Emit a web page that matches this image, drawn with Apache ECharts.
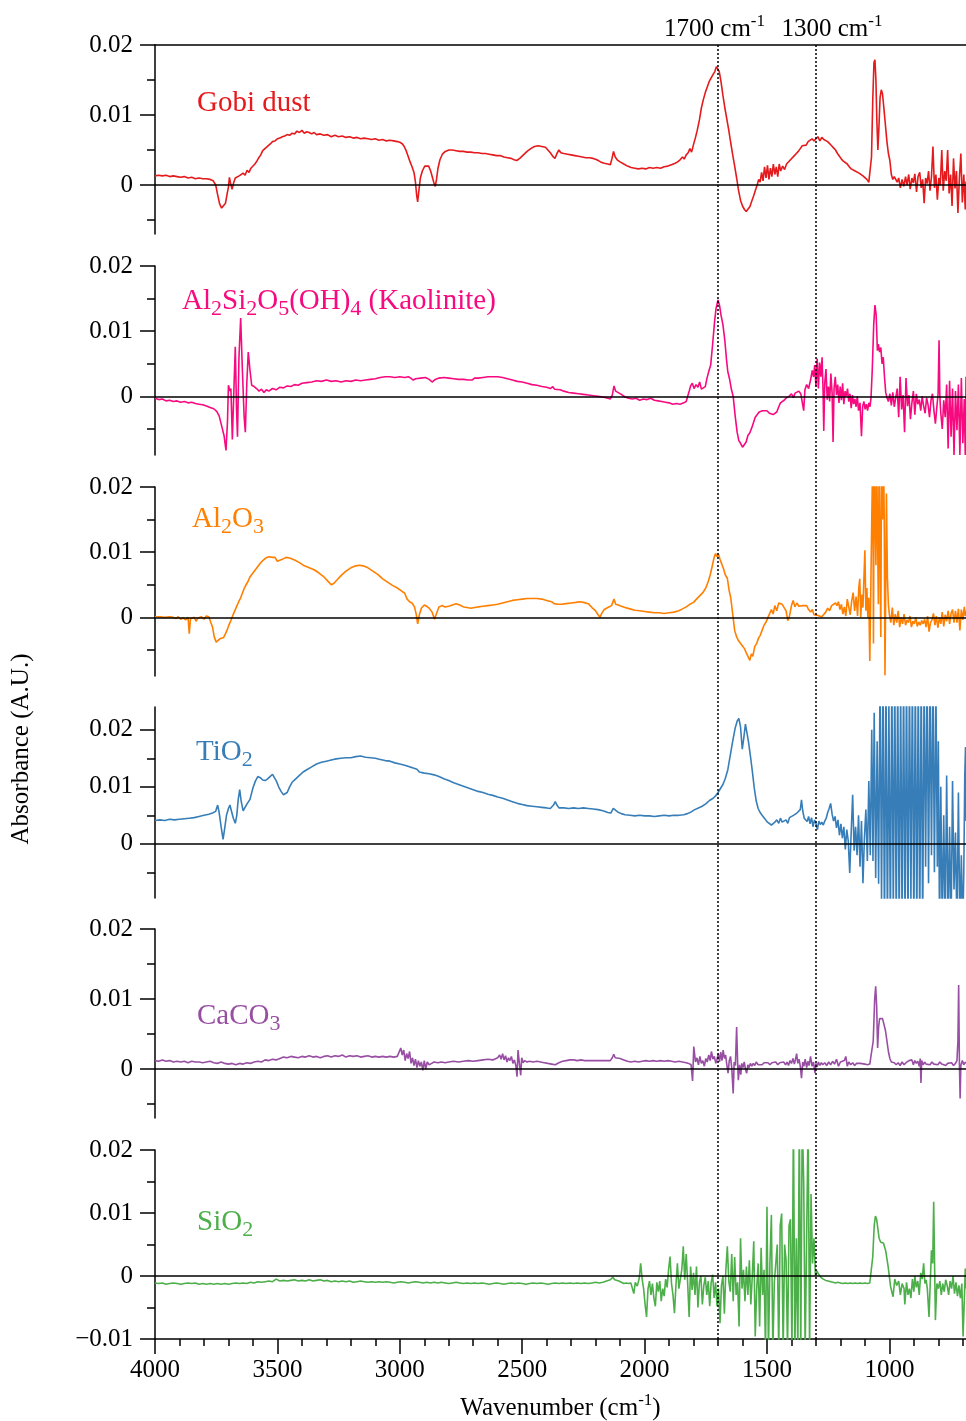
<!DOCTYPE html>
<html><head><meta charset="utf-8">
<script src="https://cdn.jsdelivr.net/npm/echarts@6/dist/echarts.min.js"></script>
<style>html,body{margin:0;padding:0;background:#fff}#c{width:966px;height:1421px}</style>
</head><body><div id="c"></div>
<script>
// ---------- data: [wavenumber (cm-1), absorbance] ----------
const gobiDust = [[4000,0.0013],[3985,0.0014],[3970,0.0013],[3955,0.0014],[3940,0.0012],[3925,0.0013],[3910,0.0012],[3895,0.0011],[3880,0.0012],[3865,0.0010],[3850,0.0011],[3835,0.0009],[3820,0.0010],[3805,0.0009],[3790,0.0009],[3775,0.0008],[3762,0.0006],[3752,0.0000],[3744,-0.0014],[3736,-0.0027],[3728,-0.0033],[3720,-0.0032],[3712,-0.0026],[3705,-0.0012],[3700,-0.0003],[3696,0.0011],[3691,0.0002],[3685,-0.0006],[3679,0.0003],[3672,0.0010],[3664,0.0008],[3656,0.0013],[3648,0.0011],[3640,0.0017],[3632,0.0014],[3624,0.0021],[3616,0.0018],[3608,0.0024],[3600,0.0026],[3592,0.0030],[3584,0.0034],[3576,0.0039],[3568,0.0043],[3560,0.0049],[3552,0.0051],[3544,0.0054],[3536,0.0056],[3528,0.0059],[3520,0.0062],[3510,0.0063],[3500,0.0066],[3490,0.0067],[3480,0.0069],[3470,0.0070],[3460,0.0072],[3450,0.0071],[3440,0.0074],[3430,0.0073],[3420,0.0077],[3410,0.0075],[3400,0.0078],[3390,0.0074],[3380,0.0076],[3370,0.0075],[3360,0.0073],[3350,0.0075],[3340,0.0072],[3325,0.0073],[3310,0.0071],[3295,0.0072],[3280,0.0069],[3265,0.0071],[3250,0.0069],[3235,0.0070],[3220,0.0068],[3205,0.0069],[3190,0.0067],[3175,0.0068],[3160,0.0066],[3145,0.0067],[3130,0.0066],[3115,0.0065],[3100,0.0066],[3085,0.0064],[3070,0.0065],[3055,0.0063],[3040,0.0064],[3025,0.0063],[3010,0.0062],[3000,0.0061],[2990,0.0059],[2982,0.0055],[2974,0.0049],[2966,0.0041],[2958,0.0033],[2950,0.0026],[2942,0.0018],[2936,0.0004],[2931,-0.0015],[2927,-0.0024],[2922,-0.0008],[2916,0.0010],[2908,0.0020],[2898,0.0027],[2890,0.0029],[2882,0.0027],[2874,0.0020],[2866,0.0010],[2860,0.0002],[2855,-0.0002],[2850,0.0008],[2844,0.0024],[2836,0.0036],[2826,0.0044],[2814,0.0048],[2800,0.0050],[2785,0.0050],[2770,0.0049],[2755,0.0048],[2740,0.0048],[2725,0.0047],[2710,0.0047],[2695,0.0046],[2680,0.0046],[2665,0.0045],[2650,0.0045],[2635,0.0044],[2620,0.0043],[2605,0.0042],[2590,0.0042],[2575,0.0040],[2560,0.0039],[2545,0.0038],[2533,0.0036],[2522,0.0035],[2510,0.0038],[2495,0.0043],[2480,0.0048],[2465,0.0052],[2450,0.0055],[2435,0.0056],[2420,0.0055],[2405,0.0054],[2395,0.0050],[2385,0.0046],[2375,0.0041],[2366,0.0038],[2358,0.0045],[2350,0.0050],[2342,0.0046],[2330,0.0045],[2315,0.0044],[2300,0.0043],[2285,0.0042],[2270,0.0041],[2255,0.0040],[2240,0.0039],[2225,0.0039],[2210,0.0038],[2195,0.0036],[2180,0.0033],[2165,0.0031],[2150,0.0030],[2140,0.0029],[2133,0.0038],[2127,0.0048],[2120,0.0040],[2112,0.0036],[2100,0.0033],[2085,0.0030],[2070,0.0027],[2055,0.0025],[2040,0.0024],[2025,0.0023],[2010,0.0024],[1995,0.0023],[1980,0.0025],[1965,0.0024],[1950,0.0025],[1935,0.0024],[1920,0.0026],[1905,0.0027],[1890,0.0029],[1875,0.0031],[1865,0.0033],[1855,0.0036],[1845,0.0040],[1838,0.0037],[1830,0.0043],[1822,0.0046],[1815,0.0052],[1808,0.0047],[1800,0.0058],[1792,0.0068],[1785,0.0078],[1776,0.0093],[1768,0.0110],[1760,0.0122],[1752,0.0132],[1744,0.0140],[1736,0.0148],[1728,0.0153],[1720,0.0158],[1713,0.0162],[1707,0.0169],[1701,0.0166],[1695,0.0162],[1688,0.0148],[1680,0.0128],[1672,0.0110],[1664,0.0094],[1656,0.0078],[1648,0.0060],[1640,0.0043],[1632,0.0027],[1624,0.0010],[1616,-0.0008],[1608,-0.0022],[1600,-0.0030],[1592,-0.0035],[1585,-0.0038],[1578,-0.0036],[1570,-0.0031],[1562,-0.0023],[1554,-0.0015],[1546,-0.0006],[1540,0.0000],[1534,0.0008],[1528,0.0004],[1522,0.0018],[1516,0.0006],[1510,0.0026],[1504,0.0010],[1498,0.0028],[1492,0.0008],[1486,0.0024],[1480,0.0012],[1474,0.0030],[1468,0.0015],[1462,0.0026],[1456,0.0012],[1450,0.0030],[1444,0.0020],[1436,0.0027],[1428,0.0022],[1420,0.0030],[1412,0.0032],[1404,0.0036],[1396,0.0038],[1388,0.0042],[1380,0.0045],[1372,0.0048],[1364,0.0052],[1356,0.0056],[1348,0.0058],[1340,0.0057],[1332,0.0062],[1324,0.0060],[1316,0.0066],[1308,0.0063],[1300,0.0066],[1292,0.0069],[1284,0.0063],[1276,0.0068],[1268,0.0065],[1260,0.0066],[1252,0.0062],[1244,0.0060],[1236,0.0056],[1228,0.0053],[1220,0.0050],[1212,0.0045],[1204,0.0041],[1196,0.0037],[1188,0.0034],[1180,0.0032],[1172,0.0030],[1164,0.0026],[1156,0.0023],[1148,0.0024],[1140,0.0020],[1132,0.0022],[1124,0.0017],[1116,0.0018],[1108,0.0013],[1100,0.0012],[1092,0.0008],[1084,0.0004],[1078,0.0002],[1073,0.0040],[1068,0.0120],[1063,0.0175],[1059,0.0179],[1055,0.0150],[1051,0.0090],[1047,0.0050],[1043,0.0080],[1038,0.0125],[1033,0.0136],[1028,0.0130],[1022,0.0108],[1016,0.0085],[1010,0.0062],[1004,0.0045],[998,0.0035],[992,0.0015],[986,0.0008],[980,0.0012],[975,0.0012],[968,0.0004],[962,0.0010],[955,-0.0004],[948,0.0008],[941,-0.0002],[934,0.0012],[928,0.0000],[921,0.0015],[915,-0.0006],[908,0.0010],[902,0.0003],[896,0.0016],[889,-0.0010],[883,0.0012],[876,0.0018],[870,-0.0004],[864,0.0008],[858,-0.0026],[852,0.0010],[846,0.0002],[840,0.0020],[834,-0.0008],[828,0.0012],[822,0.0055],[816,-0.0004],[810,0.0015],[804,-0.0021],[798,0.0010],[792,0.0000],[786,0.0050],[780,-0.0008],[774,0.0020],[768,0.0006],[762,0.0050],[756,-0.0012],[750,0.0015],[744,-0.0030],[738,0.0038],[732,-0.0005],[726,0.0020],[720,-0.0040],[714,0.0010],[708,0.0045],[702,-0.0025],[696,0.0015],[690,-0.0035],[687,0.0005]];

const kaolinite = [[4000,-0.0003],[3985,-0.0005],[3970,-0.0004],[3955,-0.0007],[3940,-0.0006],[3925,-0.0008],[3910,-0.0007],[3895,-0.0009],[3880,-0.0008],[3865,-0.0010],[3850,-0.0009],[3835,-0.0011],[3820,-0.0012],[3805,-0.0013],[3790,-0.0015],[3775,-0.0017],[3760,-0.0019],[3748,-0.0023],[3738,-0.0030],[3728,-0.0045],[3718,-0.0060],[3710,-0.0083],[3704,-0.0040],[3700,0.0017],[3694,0.0008],[3690,0.0012],[3684,-0.0066],[3676,0.0030],[3672,0.0076],[3667,-0.0020],[3663,-0.0062],[3657,0.0060],[3650,0.0120],[3643,0.0040],[3636,-0.0030],[3631,-0.0055],[3625,0.0020],[3619,0.0068],[3612,0.0040],[3605,0.0017],[3595,0.0015],[3585,0.0012],[3575,0.0008],[3565,0.0011],[3555,0.0006],[3545,0.0010],[3535,0.0008],[3520,0.0012],[3505,0.0010],[3490,0.0014],[3475,0.0013],[3460,0.0016],[3445,0.0015],[3430,0.0018],[3415,0.0017],[3400,0.0020],[3380,0.0021],[3360,0.0022],[3340,0.0024],[3320,0.0023],[3300,0.0025],[3280,0.0023],[3260,0.0024],[3240,0.0022],[3220,0.0024],[3200,0.0023],[3180,0.0025],[3160,0.0024],[3140,0.0025],[3120,0.0026],[3100,0.0027],[3080,0.0029],[3060,0.0030],[3040,0.0030],[3020,0.0029],[3000,0.0030],[2980,0.0029],[2965,0.0030],[2955,0.0028],[2945,0.0025],[2935,0.0027],[2915,0.0028],[2895,0.0029],[2880,0.0026],[2868,0.0022],[2855,0.0026],[2840,0.0028],[2820,0.0029],[2800,0.0028],[2780,0.0027],[2760,0.0026],[2740,0.0026],[2720,0.0025],[2705,0.0025],[2695,0.0028],[2680,0.0028],[2660,0.0029],[2640,0.0030],[2620,0.0030],[2600,0.0030],[2580,0.0029],[2560,0.0027],[2540,0.0025],[2520,0.0023],[2500,0.0022],[2480,0.0020],[2460,0.0018],[2440,0.0017],[2420,0.0015],[2400,0.0014],[2385,0.0012],[2375,0.0015],[2368,0.0011],[2360,0.0013],[2345,0.0010],[2330,0.0008],[2310,0.0006],[2290,0.0005],[2270,0.0004],[2250,0.0003],[2230,0.0002],[2210,0.0001],[2190,0.0000],[2170,-0.0001],[2150,-0.0003],[2140,-0.0004],[2132,0.0002],[2125,0.0016],[2118,0.0008],[2110,0.0005],[2095,0.0003],[2080,-0.0001],[2065,-0.0003],[2050,-0.0004],[2035,-0.0003],[2020,-0.0006],[2005,-0.0004],[1990,-0.0005],[1975,-0.0003],[1960,-0.0006],[1945,-0.0007],[1930,-0.0008],[1915,-0.0009],[1900,-0.0010],[1885,-0.0012],[1870,-0.0011],[1855,-0.0012],[1840,-0.0010],[1830,-0.0008],[1820,0.0005],[1812,0.0016],[1805,0.0020],[1798,0.0012],[1790,0.0018],[1782,0.0014],[1775,0.0022],[1768,0.0011],[1760,0.0010],[1752,0.0015],[1745,0.0028],[1738,0.0038],[1730,0.0048],[1722,0.0080],[1714,0.0115],[1708,0.0135],[1700,0.0148],[1694,0.0140],[1688,0.0125],[1680,0.0110],[1672,0.0085],[1665,0.0055],[1660,0.0038],[1652,0.0025],[1645,0.0010],[1638,0.0000],[1630,-0.0030],[1622,-0.0055],[1615,-0.0068],[1608,-0.0072],[1600,-0.0078],[1593,-0.0076],[1585,-0.0070],[1578,-0.0060],[1570,-0.0056],[1562,-0.0048],[1555,-0.0040],[1548,-0.0032],[1540,-0.0030],[1532,-0.0024],[1525,-0.0026],[1518,-0.0022],[1510,-0.0024],[1500,-0.0022],[1490,-0.0026],[1482,-0.0023],[1475,-0.0028],[1468,-0.0026],[1460,-0.0024],[1452,-0.0016],[1445,-0.0010],[1438,-0.0008],[1430,-0.0006],[1420,-0.0002],[1410,0.0000],[1400,0.0004],[1392,-0.0002],[1385,0.0005],[1378,0.0002],[1370,0.0008],[1362,0.0004],[1355,0.0006],[1350,-0.0022],[1345,0.0010],[1338,0.0018],[1330,0.0012],[1322,0.0025],[1315,0.0040],[1310,0.0030],[1305,0.0048],[1300,0.0015],[1295,0.0058],[1290,0.0012],[1285,0.0052],[1280,0.0030],[1275,0.0060],[1271,0.0010],[1268,-0.0053],[1264,0.0020],[1259,0.0042],[1254,-0.0005],[1249,0.0015],[1244,-0.0008],[1239,0.0035],[1234,0.0005],[1230,-0.0070],[1226,0.0012],[1221,0.0030],[1216,0.0002],[1211,0.0018],[1206,-0.0010],[1201,0.0015],[1196,-0.0006],[1191,0.0020],[1186,-0.0012],[1181,0.0008],[1176,0.0000],[1171,0.0012],[1166,-0.0008],[1161,0.0004],[1156,-0.0018],[1151,0.0002],[1146,-0.0012],[1141,-0.0004],[1136,-0.0016],[1131,0.0000],[1126,-0.0022],[1120,-0.0010],[1114,-0.0061],[1109,-0.0015],[1104,-0.0008],[1099,-0.0020],[1094,-0.0012],[1089,-0.0022],[1084,-0.0010],[1079,-0.0016],[1075,-0.0002],[1070,0.0040],[1064,0.0110],[1059,0.0140],[1054,0.0125],[1049,0.0070],[1045,0.0080],[1040,0.0068],[1035,0.0075],[1030,0.0050],[1025,0.0060],[1020,0.0030],[1015,0.0006],[1010,-0.0002],[1004,-0.0008],[998,0.0004],[992,-0.0014],[986,0.0006],[980,-0.0016],[974,-0.0002],[968,0.0012],[962,-0.0032],[956,0.0030],[950,-0.0020],[944,0.0002],[938,-0.0055],[932,0.0028],[926,-0.0015],[920,0.0002],[914,-0.0035],[908,-0.0010],[902,0.0008],[896,-0.0028],[890,0.0004],[884,-0.0012],[878,-0.0005],[872,-0.0022],[866,0.0000],[860,-0.0015],[854,-0.0026],[848,-0.0002],[842,-0.0013],[836,-0.0032],[830,-0.0006],[824,0.0004],[818,-0.0022],[812,-0.0042],[806,-0.0016],[801,0.0004],[797,0.0086],[794,0.0002],[790,-0.0026],[784,-0.0050],[778,-0.0006],[772,-0.0032],[766,0.0018],[760,-0.0080],[754,0.0024],[748,-0.0062],[742,0.0012],[736,-0.0090],[730,0.0008],[724,-0.0052],[718,0.0018],[712,-0.0090],[706,0.0028],[700,-0.0072],[694,-0.0004],[690,-0.0090],[687,0.0030]];

const alumina = [[4000,0.0001],[3980,0.0001],[3960,0.0000],[3940,0.0001],[3925,0.0000],[3915,-0.0002],[3905,0.0001],[3895,-0.0003],[3885,-0.0001],[3875,-0.0004],[3865,0.0000],[3860,-0.0025],[3855,-0.0002],[3848,-0.0005],[3840,0.0000],[3832,-0.0006],[3825,-0.0001],[3818,-0.0004],[3810,0.0001],[3800,-0.0003],[3790,0.0002],[3780,0.0001],[3772,-0.0008],[3765,-0.0015],[3758,-0.0030],[3750,-0.0038],[3742,-0.0035],[3735,-0.0033],[3728,-0.0030],[3720,-0.0031],[3712,-0.0025],[3704,-0.0018],[3696,-0.0010],[3688,-0.0003],[3680,0.0005],[3672,0.0008],[3665,0.0018],[3658,0.0024],[3650,0.0030],[3642,0.0038],[3635,0.0045],[3628,0.0050],[3620,0.0055],[3612,0.0062],[3600,0.0068],[3590,0.0073],[3580,0.0078],[3570,0.0083],[3560,0.0087],[3548,0.0091],[3535,0.0093],[3520,0.0092],[3510,0.0092],[3500,0.0086],[3492,0.0085],[3480,0.0089],[3465,0.0092],[3450,0.0091],[3430,0.0088],[3410,0.0084],[3390,0.0079],[3370,0.0076],[3350,0.0073],[3330,0.0068],[3310,0.0062],[3295,0.0056],[3280,0.0050],[3270,0.0052],[3255,0.0058],[3240,0.0064],[3220,0.0071],[3200,0.0076],[3180,0.0079],[3165,0.0080],[3150,0.0079],[3130,0.0076],[3110,0.0071],[3090,0.0066],[3070,0.0059],[3050,0.0054],[3030,0.0049],[3010,0.0045],[2995,0.0041],[2980,0.0037],[2970,0.0028],[2960,0.0024],[2950,0.0022],[2940,0.0016],[2933,0.0005],[2927,-0.0010],[2920,0.0004],[2912,0.0014],[2900,0.0019],[2890,0.0017],[2880,0.0014],[2868,0.0008],[2858,-0.0003],[2850,0.0006],[2840,0.0016],[2828,0.0018],[2815,0.0016],[2800,0.0017],[2785,0.0019],[2770,0.0021],[2755,0.0019],[2740,0.0016],[2725,0.0015],[2710,0.0014],[2695,0.0015],[2680,0.0016],[2660,0.0017],[2640,0.0018],[2620,0.0019],[2600,0.0020],[2580,0.0022],[2560,0.0024],[2540,0.0026],[2520,0.0027],[2500,0.0028],[2480,0.0029],[2460,0.0029],[2440,0.0029],[2420,0.0028],[2400,0.0026],[2380,0.0024],[2370,0.0021],[2355,0.0020],[2340,0.0020],[2320,0.0021],[2300,0.0022],[2280,0.0023],[2265,0.0024],[2250,0.0023],[2230,0.0021],[2215,0.0015],[2200,0.0010],[2190,0.0004],[2182,0.0000],[2175,0.0006],[2165,0.0012],[2150,0.0015],[2135,0.0018],[2125,0.0028],[2118,0.0020],[2108,0.0019],[2095,0.0017],[2080,0.0015],[2060,0.0013],[2040,0.0011],[2020,0.0010],[2000,0.0009],[1980,0.0008],[1960,0.0007],[1940,0.0007],[1920,0.0006],[1900,0.0007],[1880,0.0008],[1860,0.0010],[1845,0.0013],[1830,0.0016],[1815,0.0020],[1800,0.0023],[1788,0.0028],[1775,0.0033],[1762,0.0038],[1750,0.0045],[1740,0.0055],[1732,0.0065],[1724,0.0078],[1716,0.0092],[1710,0.0098],[1704,0.0093],[1698,0.0097],[1692,0.0089],[1685,0.0082],[1678,0.0075],[1670,0.0065],[1662,0.0060],[1655,0.0042],[1648,0.0030],[1640,0.0005],[1632,-0.0020],[1624,-0.0030],[1616,-0.0036],[1608,-0.0039],[1600,-0.0044],[1592,-0.0048],[1584,-0.0055],[1576,-0.0052],[1570,-0.0066],[1564,-0.0056],[1558,-0.0060],[1550,-0.0045],[1542,-0.0040],[1535,-0.0032],[1528,-0.0028],[1520,-0.0020],[1512,-0.0012],[1505,-0.0008],[1498,-0.0002],[1490,0.0005],[1482,0.0012],[1475,0.0005],[1468,0.0018],[1460,0.0010],[1452,0.0022],[1445,0.0024],[1438,0.0020],[1430,0.0015],[1422,0.0010],[1415,-0.0005],[1408,0.0002],[1400,0.0018],[1393,0.0026],[1386,0.0016],[1378,0.0022],[1370,0.0017],[1362,0.0020],[1354,0.0018],[1346,0.0016],[1338,0.0018],[1330,0.0012],[1322,0.0008],[1315,0.0012],[1308,0.0004],[1300,0.0006],[1292,0.0003],[1284,0.0002],[1276,0.0001],[1268,0.0003],[1260,0.0008],[1252,0.0014],[1244,0.0010],[1236,0.0018],[1228,0.0015],[1220,0.0022],[1214,0.0018],[1208,0.0024],[1202,0.0012],[1196,0.0020],[1190,0.0005],[1184,0.0016],[1178,0.0002],[1172,0.0028],[1166,0.0030],[1160,0.0004],[1154,0.0025],[1148,0.0038],[1142,0.0010],[1136,0.0032],[1130,0.0002],[1125,0.0045],[1121,0.0059],[1117,0.0000],[1112,0.0035],[1108,0.0015],[1104,0.0060],[1100,0.0103],[1096,0.0010],[1092,0.0045],[1088,0.0000],[1084,0.0030],[1080,-0.0067],[1076,0.0040],[1072,0.0150],[1068,0.0250],[1065,-0.0040],[1062,0.0250],[1058,0.0250],[1055,0.0080],[1052,0.0250],[1048,0.0250],[1045,0.0020],[1042,0.0250],[1038,0.0250],[1035,-0.0030],[1032,0.0250],[1028,0.0150],[1024,0.0250],[1021,0.0150],[1018,-0.0089],[1015,0.0040],[1012,0.0190],[1008,0.0060],[1004,0.0020],[1000,0.0004],[994,-0.0008],[988,0.0015],[982,-0.0012],[976,0.0005],[970,-0.0008],[964,0.0010],[958,-0.0015],[952,0.0000],[946,-0.0010],[940,0.0005],[934,-0.0012],[928,-0.0004],[922,-0.0008],[916,0.0002],[910,-0.0015],[904,-0.0006],[898,-0.0010],[892,0.0000],[886,-0.0014],[880,-0.0007],[874,-0.0012],[868,-0.0005],[862,-0.0010],[856,-0.0003],[850,-0.0015],[844,0.0002],[838,-0.0022],[832,-0.0008],[826,-0.0004],[820,0.0006],[814,-0.0012],[808,0.0002],[802,-0.0016],[796,0.0000],[790,-0.0010],[784,0.0008],[778,-0.0014],[772,0.0004],[766,-0.0006],[760,0.0010],[754,-0.0010],[748,0.0006],[742,0.0012],[736,-0.0008],[730,0.0010],[724,-0.0008],[718,0.0013],[712,-0.0020],[706,0.0012],[700,-0.0004],[694,0.0016],[690,0.0002],[687,0.0010]];

const titania = [[4000,0.0041],[3980,0.0042],[3960,0.0041],[3940,0.0043],[3920,0.0042],[3900,0.0043],[3880,0.0044],[3860,0.0045],[3840,0.0046],[3820,0.0048],[3800,0.0050],[3780,0.0052],[3765,0.0054],[3752,0.0057],[3744,0.0068],[3738,0.0055],[3730,0.0030],[3722,0.0008],[3716,0.0025],[3708,0.0050],[3700,0.0062],[3694,0.0068],[3688,0.0058],[3680,0.0045],[3672,0.0036],[3666,0.0050],[3660,0.0078],[3654,0.0095],[3648,0.0075],[3640,0.0058],[3632,0.0060],[3624,0.0070],[3612,0.0078],[3600,0.0098],[3590,0.0110],[3580,0.0118],[3570,0.0116],[3560,0.0112],[3550,0.0111],[3540,0.0114],[3530,0.0118],[3520,0.0122],[3512,0.0120],[3504,0.0110],[3495,0.0100],[3485,0.0092],[3475,0.0086],[3468,0.0084],[3460,0.0090],[3450,0.0100],[3440,0.0108],[3425,0.0114],[3410,0.0120],[3395,0.0126],[3380,0.0130],[3360,0.0135],[3340,0.0140],[3320,0.0143],[3300,0.0145],[3280,0.0147],[3260,0.0149],[3240,0.0150],[3220,0.0151],[3200,0.0151],[3180,0.0153],[3160,0.0154],[3140,0.0152],[3120,0.0151],[3100,0.0150],[3080,0.0148],[3060,0.0146],[3040,0.0145],[3020,0.0142],[3000,0.0140],[2980,0.0138],[2960,0.0135],[2945,0.0133],[2930,0.0131],[2920,0.0126],[2900,0.0124],[2880,0.0123],[2860,0.0121],[2840,0.0118],[2820,0.0114],[2800,0.0111],[2780,0.0107],[2760,0.0104],[2740,0.0101],[2720,0.0098],[2700,0.0095],[2680,0.0092],[2660,0.0090],[2640,0.0087],[2620,0.0085],[2600,0.0082],[2580,0.0080],[2560,0.0077],[2540,0.0074],[2520,0.0071],[2500,0.0069],[2480,0.0067],[2460,0.0066],[2440,0.0065],[2420,0.0064],[2400,0.0063],[2385,0.0062],[2372,0.0068],[2365,0.0074],[2358,0.0068],[2350,0.0063],[2330,0.0063],[2310,0.0062],[2290,0.0063],[2270,0.0062],[2250,0.0063],[2230,0.0062],[2210,0.0061],[2190,0.0060],[2170,0.0058],[2150,0.0055],[2138,0.0054],[2128,0.0062],[2120,0.0060],[2110,0.0056],[2095,0.0053],[2080,0.0051],[2060,0.0050],[2040,0.0049],[2020,0.0050],[2000,0.0049],[1980,0.0049],[1960,0.0048],[1940,0.0049],[1920,0.0050],[1900,0.0049],[1880,0.0050],[1860,0.0050],[1840,0.0051],[1825,0.0053],[1810,0.0056],[1795,0.0060],[1780,0.0063],[1765,0.0066],[1750,0.0070],[1735,0.0076],[1720,0.0080],[1710,0.0084],[1700,0.0090],[1690,0.0097],[1680,0.0104],[1670,0.0115],[1660,0.0130],[1650,0.0155],[1640,0.0180],[1630,0.0203],[1622,0.0215],[1615,0.0220],[1608,0.0205],[1601,0.0166],[1595,0.0185],[1588,0.0210],[1582,0.0212],[1576,0.0180],[1568,0.0155],[1560,0.0128],[1552,0.0098],[1544,0.0075],[1536,0.0062],[1528,0.0055],[1520,0.0050],[1512,0.0048],[1505,0.0042],[1498,0.0038],[1490,0.0040],[1482,0.0033],[1475,0.0030],[1468,0.0038],[1460,0.0042],[1452,0.0036],[1445,0.0045],[1438,0.0038],[1430,0.0035],[1422,0.0042],[1415,0.0036],[1408,0.0046],[1400,0.0044],[1392,0.0050],[1385,0.0048],[1378,0.0054],[1370,0.0052],[1364,0.0060],[1359,0.0077],[1354,0.0058],[1348,0.0045],[1342,0.0042],[1336,0.0039],[1330,0.0048],[1324,0.0035],[1318,0.0046],[1312,0.0030],[1306,0.0042],[1300,0.0036],[1294,0.0025],[1288,0.0040],[1282,0.0034],[1276,0.0038],[1270,0.0033],[1264,0.0040],[1258,0.0045],[1252,0.0055],[1246,0.0062],[1240,0.0071],[1234,0.0052],[1228,0.0040],[1222,0.0048],[1216,0.0028],[1210,0.0042],[1204,0.0015],[1198,0.0035],[1192,0.0010],[1186,0.0030],[1180,-0.0010],[1174,0.0025],[1168,0.0005],[1162,-0.0051],[1156,0.0020],[1150,0.0086],[1144,-0.0012],[1138,0.0030],[1132,-0.0020],[1126,0.0050],[1120,-0.0040],[1114,0.0040],[1108,-0.0069],[1102,0.0010],[1096,0.0060],[1090,-0.0030],[1084,0.0110],[1078,-0.0020],[1072,0.0200],[1067,-0.0030],[1062,0.0230],[1056,-0.0060],[1050,0.0180],[1044,-0.0070],[1038,0.0300],[1032,-0.0100],[1026,0.0300],[1020,-0.0150],[1014,0.0300],[1008,-0.0150],[1002,0.0250],[996,-0.0150],[990,0.0300],[984,-0.0120],[978,0.0300],[972,-0.0150],[966,0.0300],[960,-0.0150],[954,0.0280],[948,-0.0150],[942,0.0300],[936,-0.0150],[930,0.0300],[924,-0.0150],[918,0.0300],[912,-0.0100],[906,0.0300],[900,-0.0150],[894,0.0300],[888,-0.0150],[882,0.0300],[876,-0.0150],[870,0.0300],[864,-0.0150],[858,0.0300],[852,-0.0040],[846,0.0300],[840,-0.0069],[834,0.0300],[828,-0.0020],[822,0.0300],[816,-0.0050],[810,0.0280],[804,-0.0040],[800,0.0180],[795,-0.0150],[790,0.0100],[784,-0.0150],[778,0.0050],[772,-0.0150],[766,0.0120],[760,-0.0150],[754,0.0030],[748,-0.0150],[742,0.0110],[736,-0.0080],[730,0.0020],[724,-0.0150],[718,0.0090],[712,-0.0150],[706,-0.0020],[700,-0.0150],[696,-0.0050],[692,0.0120],[689,0.0170],[687,0.0040]];

const calcite = [[4000,0.0012],[3985,0.0011],[3970,0.0013],[3955,0.0011],[3940,0.0012],[3925,0.0010],[3910,0.0011],[3895,0.0010],[3880,0.0011],[3865,0.0009],[3850,0.0011],[3835,0.0010],[3820,0.0010],[3805,0.0009],[3790,0.0010],[3775,0.0011],[3760,0.0009],[3745,0.0008],[3730,0.0010],[3715,0.0008],[3700,0.0007],[3685,0.0008],[3670,0.0006],[3655,0.0008],[3640,0.0007],[3625,0.0009],[3610,0.0008],[3595,0.0010],[3580,0.0011],[3565,0.0010],[3550,0.0013],[3535,0.0012],[3520,0.0014],[3505,0.0013],[3490,0.0015],[3475,0.0017],[3460,0.0016],[3445,0.0018],[3430,0.0017],[3415,0.0016],[3400,0.0018],[3385,0.0017],[3370,0.0019],[3355,0.0017],[3340,0.0018],[3325,0.0016],[3310,0.0018],[3295,0.0019],[3280,0.0017],[3265,0.0019],[3250,0.0018],[3235,0.0020],[3220,0.0017],[3205,0.0019],[3190,0.0018],[3175,0.0019],[3160,0.0017],[3145,0.0018],[3130,0.0019],[3115,0.0017],[3100,0.0018],[3085,0.0017],[3070,0.0018],[3055,0.0017],[3040,0.0018],[3025,0.0017],[3010,0.0018],[3002,0.0016],[2996,0.0030],[2990,0.0020],[2984,0.0027],[2978,0.0012],[2972,0.0022],[2966,0.0015],[2960,0.0025],[2954,0.0008],[2948,0.0016],[2942,0.0005],[2936,0.0014],[2930,0.0002],[2924,0.0012],[2918,0.0004],[2912,0.0010],[2906,-0.0002],[2900,0.0012],[2894,0.0000],[2888,0.0010],[2880,0.0006],[2870,0.0008],[2860,0.0010],[2845,0.0009],[2830,0.0010],[2815,0.0009],[2800,0.0010],[2780,0.0011],[2760,0.0010],[2740,0.0011],[2720,0.0012],[2700,0.0011],[2680,0.0012],[2660,0.0013],[2640,0.0014],[2620,0.0013],[2600,0.0016],[2592,0.0020],[2586,0.0014],[2580,0.0022],[2574,0.0013],[2568,0.0019],[2562,0.0010],[2556,0.0016],[2550,0.0012],[2544,0.0018],[2538,0.0008],[2532,0.0013],[2526,0.0005],[2521,-0.0011],[2517,0.0027],[2512,0.0010],[2506,-0.0009],[2502,0.0016],[2496,0.0009],[2490,0.0012],[2480,0.0010],[2470,0.0011],[2455,0.0010],[2440,0.0011],[2425,0.0010],[2410,0.0009],[2395,0.0008],[2380,0.0007],[2365,0.0006],[2350,0.0009],[2335,0.0011],[2320,0.0012],[2305,0.0013],[2290,0.0013],[2275,0.0012],[2260,0.0013],[2245,0.0012],[2230,0.0012],[2215,0.0012],[2200,0.0012],[2185,0.0012],[2170,0.0012],[2155,0.0012],[2140,0.0012],[2132,0.0016],[2126,0.0021],[2120,0.0016],[2112,0.0017],[2100,0.0015],[2085,0.0013],[2070,0.0011],[2055,0.0010],[2040,0.0011],[2025,0.0010],[2010,0.0011],[1995,0.0012],[1980,0.0011],[1965,0.0012],[1950,0.0011],[1935,0.0012],[1920,0.0011],[1905,0.0012],[1890,0.0011],[1875,0.0010],[1860,0.0011],[1845,0.0010],[1830,0.0009],[1820,0.0008],[1810,0.0006],[1804,-0.0017],[1799,0.0032],[1792,0.0010],[1786,0.0016],[1780,0.0006],[1774,0.0018],[1768,0.0008],[1762,0.0012],[1756,0.0004],[1750,0.0015],[1744,0.0010],[1738,0.0020],[1732,0.0012],[1727,0.0025],[1721,0.0014],[1715,0.0018],[1709,0.0008],[1704,0.0014],[1699,0.0022],[1694,0.0010],[1689,0.0024],[1684,0.0012],[1679,0.0027],[1674,0.0015],[1669,0.0020],[1664,0.0006],[1659,-0.0006],[1654,0.0012],[1649,0.0018],[1644,0.0002],[1638,-0.0035],[1634,0.0010],[1629,0.0005],[1624,0.0060],[1620,0.0010],[1617,-0.0016],[1612,0.0006],[1607,-0.0008],[1603,0.0008],[1598,0.0002],[1593,0.0010],[1588,0.0000],[1583,-0.0006],[1578,0.0006],[1573,0.0002],[1568,0.0008],[1562,0.0004],[1556,0.0008],[1550,0.0005],[1544,0.0010],[1536,0.0006],[1528,0.0008],[1520,0.0006],[1512,0.0009],[1504,0.0007],[1496,0.0009],[1488,0.0006],[1480,0.0009],[1472,0.0007],[1464,0.0010],[1456,0.0006],[1448,0.0009],[1440,0.0007],[1432,0.0010],[1424,0.0006],[1418,0.0010],[1412,0.0005],[1406,0.0012],[1400,0.0008],[1394,0.0015],[1388,0.0007],[1382,0.0016],[1379,0.0022],[1374,0.0008],[1369,0.0014],[1364,0.0004],[1359,-0.0013],[1354,0.0010],[1349,0.0004],[1344,0.0014],[1338,0.0002],[1333,0.0011],[1328,0.0005],[1322,0.0018],[1316,0.0004],[1310,0.0010],[1304,-0.0006],[1300,0.0008],[1295,0.0003],[1290,0.0010],[1284,0.0005],[1278,0.0009],[1272,0.0006],[1264,0.0009],[1256,0.0005],[1248,0.0010],[1240,0.0006],[1232,0.0011],[1224,0.0007],[1216,0.0014],[1208,0.0004],[1200,0.0010],[1192,0.0008],[1184,0.0012],[1178,0.0018],[1172,0.0004],[1166,0.0010],[1158,0.0006],[1150,0.0009],[1142,0.0005],[1134,0.0008],[1126,0.0006],[1118,0.0008],[1110,0.0006],[1100,0.0007],[1090,0.0006],[1080,0.0007],[1072,0.0009],[1066,0.0040],[1060,0.0100],[1056,0.0118],[1052,0.0090],[1048,0.0030],[1044,0.0060],[1040,0.0072],[1034,0.0074],[1028,0.0072],[1022,0.0070],[1016,0.0055],[1010,0.0040],[1004,0.0025],[998,0.0015],[992,0.0010],[986,0.0008],[980,0.0009],[972,0.0006],[964,0.0009],[956,0.0005],[948,0.0010],[940,0.0006],[932,0.0009],[926,0.0007],[920,0.0012],[914,0.0010],[908,0.0013],[902,0.0006],[896,0.0012],[890,0.0008],[884,0.0011],[878,0.0004],[874,0.0015],[871,-0.0020],[868,0.0012],[862,0.0006],[856,0.0010],[850,0.0007],[842,0.0009],[834,0.0006],[826,0.0010],[818,0.0007],[810,0.0009],[802,0.0006],[794,0.0010],[786,0.0007],[778,0.0009],[770,0.0005],[762,0.0008],[754,0.0006],[746,0.0009],[738,0.0005],[730,0.0008],[724,0.0012],[720,0.0040],[717,0.0120],[714,0.0010],[711,-0.0042],[708,0.0005],[702,0.0012],[696,0.0006],[690,0.0010],[687,0.0008]];

const silica = [[4000,-0.0011],[3985,-0.0012],[3970,-0.0011],[3955,-0.0013],[3940,-0.0012],[3925,-0.0011],[3910,-0.0012],[3895,-0.0013],[3880,-0.0012],[3865,-0.0011],[3850,-0.0012],[3835,-0.0011],[3820,-0.0013],[3805,-0.0012],[3790,-0.0013],[3775,-0.0012],[3760,-0.0013],[3745,-0.0012],[3730,-0.0013],[3715,-0.0012],[3700,-0.0013],[3685,-0.0012],[3670,-0.0011],[3655,-0.0012],[3640,-0.0011],[3625,-0.0012],[3610,-0.0010],[3595,-0.0011],[3580,-0.0009],[3565,-0.0010],[3550,-0.0009],[3535,-0.0008],[3520,-0.0009],[3505,-0.0005],[3490,-0.0008],[3475,-0.0007],[3460,-0.0008],[3445,-0.0007],[3430,-0.0006],[3415,-0.0008],[3400,-0.0007],[3385,-0.0008],[3370,-0.0006],[3355,-0.0008],[3340,-0.0007],[3325,-0.0006],[3310,-0.0008],[3295,-0.0007],[3280,-0.0009],[3265,-0.0008],[3250,-0.0009],[3235,-0.0008],[3220,-0.0009],[3205,-0.0008],[3190,-0.0010],[3175,-0.0009],[3160,-0.0008],[3145,-0.0009],[3130,-0.0010],[3115,-0.0009],[3100,-0.0010],[3085,-0.0009],[3070,-0.0010],[3055,-0.0009],[3040,-0.0010],[3025,-0.0011],[3010,-0.0010],[2995,-0.0009],[2980,-0.0010],[2965,-0.0011],[2950,-0.0010],[2935,-0.0009],[2920,-0.0010],[2905,-0.0011],[2890,-0.0010],[2875,-0.0011],[2860,-0.0010],[2845,-0.0011],[2830,-0.0010],[2815,-0.0011],[2800,-0.0012],[2785,-0.0011],[2770,-0.0010],[2755,-0.0011],[2740,-0.0012],[2725,-0.0011],[2710,-0.0012],[2695,-0.0011],[2680,-0.0012],[2665,-0.0011],[2650,-0.0012],[2635,-0.0013],[2620,-0.0012],[2605,-0.0011],[2590,-0.0012],[2575,-0.0013],[2560,-0.0012],[2545,-0.0011],[2530,-0.0012],[2515,-0.0011],[2500,-0.0012],[2485,-0.0013],[2470,-0.0012],[2455,-0.0011],[2440,-0.0012],[2425,-0.0011],[2410,-0.0012],[2395,-0.0013],[2380,-0.0012],[2365,-0.0011],[2350,-0.0012],[2335,-0.0011],[2320,-0.0012],[2305,-0.0011],[2290,-0.0012],[2275,-0.0011],[2260,-0.0012],[2245,-0.0011],[2230,-0.0012],[2215,-0.0011],[2200,-0.0010],[2185,-0.0011],[2170,-0.0010],[2155,-0.0008],[2140,-0.0006],[2130,-0.0002],[2122,-0.0006],[2115,-0.0003],[2105,-0.0008],[2095,-0.0010],[2085,-0.0012],[2075,-0.0011],[2065,-0.0012],[2056,-0.0011],[2050,-0.0012],[2044,-0.0028],[2038,-0.0010],[2030,-0.0016],[2022,-0.0004],[2016,0.0020],[2010,-0.0005],[2004,-0.0020],[1998,-0.0045],[1992,-0.0065],[1986,-0.0020],[1980,-0.0008],[1974,-0.0030],[1968,-0.0012],[1962,-0.0035],[1956,-0.0048],[1950,-0.0010],[1944,-0.0025],[1938,-0.0008],[1932,-0.0040],[1926,-0.0020],[1920,-0.0032],[1914,-0.0005],[1908,-0.0018],[1902,0.0010],[1896,0.0031],[1890,-0.0012],[1884,-0.0030],[1878,-0.0059],[1872,-0.0015],[1866,0.0020],[1860,-0.0020],[1854,-0.0005],[1848,0.0010],[1842,0.0047],[1836,-0.0006],[1830,0.0035],[1824,-0.0012],[1818,-0.0065],[1812,0.0015],[1806,-0.0022],[1800,0.0005],[1794,-0.0030],[1788,0.0015],[1782,-0.0050],[1776,-0.0010],[1770,0.0000],[1764,-0.0045],[1758,-0.0015],[1752,-0.0002],[1746,-0.0030],[1740,-0.0008],[1734,-0.0048],[1728,-0.0010],[1722,0.0002],[1716,-0.0035],[1710,-0.0010],[1704,-0.0048],[1698,-0.0020],[1692,-0.0075],[1686,-0.0015],[1680,0.0000],[1674,-0.0060],[1668,0.0010],[1662,0.0047],[1656,-0.0008],[1650,-0.0025],[1644,0.0035],[1638,-0.0040],[1632,0.0030],[1626,-0.0030],[1620,-0.0010],[1614,-0.0080],[1608,0.0060],[1602,-0.0020],[1596,0.0010],[1590,-0.0040],[1584,0.0015],[1578,-0.0030],[1572,0.0025],[1566,-0.0045],[1560,0.0000],[1554,0.0055],[1548,-0.0096],[1542,-0.0020],[1536,0.0020],[1530,-0.0080],[1524,0.0045],[1518,-0.0030],[1512,0.0010],[1506,-0.0120],[1500,0.0110],[1494,-0.0120],[1488,0.0020],[1482,0.0097],[1476,-0.0120],[1470,-0.0010],[1464,0.0020],[1458,0.0050],[1452,-0.0120],[1446,0.0080],[1440,0.0099],[1434,-0.0120],[1428,0.0050],[1422,0.0025],[1416,-0.0120],[1410,0.0080],[1404,0.0090],[1398,-0.0120],[1392,0.0250],[1386,-0.0120],[1380,0.0060],[1374,-0.0120],[1368,0.0250],[1362,-0.0120],[1356,0.0250],[1350,0.0150],[1344,-0.0120],[1338,0.0060],[1332,0.0250],[1326,-0.0120],[1320,0.0130],[1314,0.0020],[1308,0.0060],[1302,0.0000],[1296,0.0008],[1290,0.0003],[1280,-0.0002],[1270,-0.0005],[1260,-0.0007],[1250,-0.0008],[1240,-0.0009],[1230,-0.0010],[1220,-0.0011],[1210,-0.0010],[1200,-0.0011],[1190,-0.0012],[1180,-0.0011],[1170,-0.0012],[1160,-0.0011],[1150,-0.0012],[1140,-0.0011],[1130,-0.0012],[1120,-0.0011],[1110,-0.0012],[1100,-0.0011],[1090,-0.0012],[1080,-0.0011],[1074,-0.0010],[1068,0.0030],[1062,0.0080],[1057,0.0095],[1052,0.0090],[1047,0.0075],[1042,0.0060],[1036,0.0054],[1030,0.0055],[1024,0.0052],[1015,0.0040],[1005,0.0015],[995,-0.0017],[985,-0.0033],[978,-0.0005],[970,-0.0015],[962,-0.0008],[955,-0.0030],[948,-0.0012],[940,-0.0020],[937,-0.0045],[930,-0.0010],[924,-0.0030],[918,-0.0020],[912,-0.0035],[906,-0.0005],[900,-0.0025],[896,0.0000],[890,-0.0018],[884,-0.0008],[878,-0.0030],[872,0.0005],[866,-0.0005],[860,0.0020],[855,-0.0012],[850,-0.0006],[845,-0.0020],[838,-0.0065],[833,-0.0010],[828,0.0041],[823,0.0020],[819,0.0118],[815,0.0010],[812,-0.0070],[806,-0.0012],[800,-0.0020],[794,-0.0008],[788,-0.0030],[782,-0.0012],[776,-0.0025],[770,-0.0006],[764,-0.0015],[758,-0.0030],[752,-0.0008],[746,-0.0020],[740,0.0000],[734,-0.0028],[728,-0.0010],[722,-0.0032],[716,-0.0015],[710,-0.0035],[704,-0.0012],[699,-0.0096],[694,-0.0040],[690,0.0012],[687,-0.0020]];

// ---------- axis / labels ----------
const xRange = [687, 4000];
const xMajorTicks = [4000, 3500, 3000, 2500, 2000, 1500, 1000];
const xMinorTicks = [3900,3800,3700,3600,3400,3300,3200,3100,2900,2800,2700,2600,2400,2300,2200,2100,1900,1800,1700,1600,1400,1300,1200,1100,900,800,700];
const yMajorTicks = [0, 0.01, 0.02];
const yMajorTicksBottom = [-0.01, 0, 0.01, 0.02];
const yMinorTicks = [-0.005, 0.005, 0.015];
const referenceLines = [1700, 1300];
const seriesNames = ['Gobi dust', 'Al2Si2O5(OH)4 (Kaolinite)', 'Al2O3', 'TiO2', 'CaCO3', 'SiO2'];
const seriesLabels = ['{n|Gobi dust}', '{n|Al}{s|2}{n|Si}{s|2}{n|O}{s|5}{n|(OH)}{s|4}{n| (Kaolinite)}', '{n|Al}{s|2}{n|O}{s|3}', '{n|TiO}{s|2}', '{n|CaCO}{s|3}', '{n|SiO}{s|2}'];

const F = "'Liberation Serif','Times New Roman',serif";
const panels = [
  {data: gobiDust,  color: '#e41a1c', top: 45,   height: 189, min: -0.007,  max: 0.02,  lx: 197, ly: 88},
  {data: kaolinite, color: '#f7097f', top: 266,  height: 189, min: -0.009,  max: 0.02,  lx: 182, ly: 286},
  {data: alumina,   color: '#ff7f00', top: 487,  height: 189, min: -0.009,  max: 0.02,  lx: 192, ly: 504},
  {data: titania,   color: '#377eb8', top: 707,  height: 191, min: -0.0095, max: 0.024, lx: 196, ly: 737},
  {data: calcite,   color: '#984ea3', top: 929,  height: 189, min: -0.007,  max: 0.02,  lx: 197, ly: 1001},
  {data: silica,    color: '#4daf4a', top: 1150, height: 189, min: -0.01,   max: 0.02,  lx: 197, ly: 1207}
];

const blackLine = {color: '#000', width: 1.5};
const yFmt = v => Math.abs(v) < 1e-9 ? '0' : (v < 0 ? '\u2212' : '') + Math.abs(v).toFixed(2);
const xFmt = v => String(v);
const supRich = {
  n: {fontFamily: F, fontSize: 25, lineHeight: 27, color: '#000'},
  m: {fontFamily: F, fontSize: 25, lineHeight: 27, color: '#000', padding: [0, 0, 0, 32]},
  p: {fontFamily: F, fontSize: 17, lineHeight: 17, color: '#000', padding: [0, 0, 16, 0]},
  q: {fontFamily: F, fontSize: 17, lineHeight: 17, color: '#000', padding: [0, 7, 16, 0]}
};

const option = {animation: false, backgroundColor: '#fff', grid: [], xAxis: [], yAxis: [], series: [], title: [], graphic: []};

panels.forEach((p, i) => {
  const last = i === panels.length - 1;
  option.grid.push({left: 155, right: 0, top: p.top, height: p.height, outerBoundsMode: 'none', containLabel: false});
  const xi = option.xAxis.length;
  option.xAxis.push({
    type: 'value', gridIndex: i, min: xRange[0], max: xRange[1], inverse: true, position: 'bottom',
    axisLine: {show: last, onZero: false, lineStyle: blackLine},
    axisTick: {show: last, customValues: xMajorTicks, length: 15, lineStyle: blackLine},
    axisLabel: {show: last, customValues: xMajorTicks, formatter: xFmt, margin: 19, fontFamily: F, fontSize: 25, color: '#000'},
    splitLine: {show: false},
    name: last ? '{n|Wavenumber (cm}{p|-1}{n|)}' : '', nameLocation: 'middle', nameGap: 56,
    nameTextStyle: {rich: supRich}
  });
  if (last) {
    option.xAxis.push({
      type: 'value', gridIndex: i, min: xRange[0], max: xRange[1], inverse: true, position: 'bottom',
      axisLine: {show: false, onZero: false}, axisTick: {show: true, customValues: xMinorTicks, length: 7, lineStyle: blackLine},
      axisLabel: {show: false}, splitLine: {show: false}
    });
  }
  if (i === 0) {
    option.xAxis.push({
      type: 'value', gridIndex: i, min: xRange[0], max: xRange[1], inverse: true, position: 'top',
      axisLine: {show: true, onZero: false, lineStyle: blackLine}, axisTick: {show: false},
      axisLabel: {show: false}, splitLine: {show: false}
    });
  }
  const yi = option.yAxis.length;
  const major = last ? yMajorTicksBottom : yMajorTicks;
  option.yAxis.push({
    type: 'value', gridIndex: i, min: p.min, max: p.max, position: 'left',
    axisLine: {show: true, onZero: false, lineStyle: blackLine},
    axisTick: {show: true, customValues: major, length: 15, lineStyle: blackLine},
    axisLabel: {show: true, customValues: major, margin: 22, formatter: yFmt, fontFamily: F, fontSize: 25, color: '#000'},
    splitLine: {show: false}
  });
  option.yAxis.push({
    type: 'value', gridIndex: i, min: p.min, max: p.max, position: 'left', offset: 0,
    axisLine: {show: false, onZero: false},
    axisTick: {show: true, customValues: yMinorTicks, length: 8, lineStyle: blackLine},
    axisLabel: {show: false}, splitLine: {show: false}
  });
  option.series.push({
    name: seriesNames[i], type: 'line', xAxisIndex: xi, yAxisIndex: yi, data: p.data,
    showSymbol: false, symbol: 'none', clip: true, z: 2,
    lineStyle: {color: p.color, width: 1.6}, itemStyle: {color: p.color},
    markLine: {silent: true, symbol: ['none', 'none'], label: {show: false}, z: 5,
      lineStyle: {color: '#000', width: 1.5, type: 'solid'}, data: [{yAxis: 0}]}
  });
  option.title.push({
    text: seriesLabels[i], left: p.lx, top: p.ly, padding: 0,
    textStyle: {color: p.color, fontFamily: F, fontSize: 29, fontWeight: 'normal',
      rich: {
        n: {fontFamily: F, fontSize: 29, lineHeight: 31, color: p.color},
        s: {fontFamily: F, fontSize: 22, lineHeight: 23, color: p.color, padding: [16, 0, 0, 0]}
      }}
  });
});

// overlay grid for the dotted reference lines spanning all panels
const oi = panels.length;
option.grid.push({left: 155, right: 0, top: 45, height: 1294, outerBoundsMode: 'none', containLabel: false});
const oxi = option.xAxis.length, oyi = option.yAxis.length;
option.xAxis.push({type: 'value', gridIndex: oi, min: xRange[0], max: xRange[1], inverse: true, show: false});
option.yAxis.push({type: 'value', gridIndex: oi, min: 0, max: 1, show: false});
option.series.push({
  type: 'line', xAxisIndex: oxi, yAxisIndex: oyi, data: [], symbol: 'none',
  markLine: {
    silent: true, symbol: ['none', 'none'],
    lineStyle: {color: '#000', width: 1.5, type: [2, 2]},
    label: {show: true, position: 'end', distance: 2, rich: supRich,
      formatter: pr => pr.value === referenceLines[0] ? '{n|' + pr.value + ' cm}{q|-1}' : '{m|' + pr.value + ' cm}{p|-1}'},
    data: referenceLines.map(v => ({xAxis: v}))
  }
});

option.graphic.push({
  type: 'text', x: 21, y: 749, rotation: Math.PI / 2,
  style: {text: 'Absorbance (A.U.)', font: '25px ' + F, fill: '#000',
    align: 'center', verticalAlign: 'middle', textAlign: 'center', textVerticalAlign: 'middle'}
});

const chart = echarts.init(document.getElementById('c'), null, {renderer: 'canvas'});
chart.setOption(option);
</script>
</body></html>
